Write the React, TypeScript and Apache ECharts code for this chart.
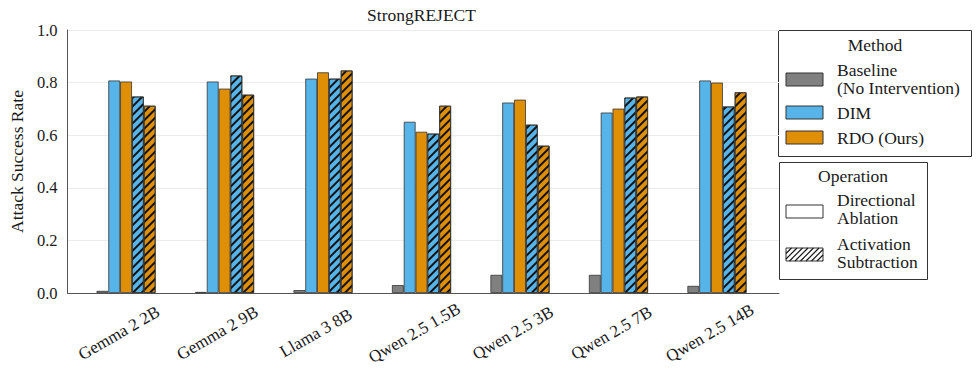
import React, { useEffect, useRef } from "react";
import * as echarts from "echarts";

const categories = ["Gemma 2 2B", "Gemma 2 9B", "Llama 3 8B", "Qwen 2.5 1.5B", "Qwen 2.5 3B", "Qwen 2.5 7B", "Qwen 2.5 14B"];
const baseline = [0.008, 0.004, 0.011, 0.03, 0.069, 0.069, 0.027];
const dimAblation = [0.808, 0.804, 0.815, 0.651, 0.724, 0.686, 0.808];
const rdoAblation = [0.804, 0.777, 0.839, 0.613, 0.735, 0.701, 0.8];
const dimSubtraction = [0.747, 0.827, 0.815, 0.606, 0.64, 0.743, 0.709];
const rdoSubtraction = [0.712, 0.754, 0.846, 0.712, 0.56, 0.747, 0.763];
const yTicks = [0, 0.2, 0.4, 0.6, 0.8, 1.0];

const FONT = "'Liberation Serif', 'DejaVu Serif', serif";
const GRAY = "#808080";
const BLUE = "#56B4E9";
const ORANGE = "#DE8F05";
const EDGE = "#333333";
const SPINE = "#555555";
const TXT = "#1a1a1a";

// plot geometry (pixels)
const PL = 64, PR = 779, PT = 30, PB = 293;
const W = 980, H = 381;
const unit = (PR - PL) / 7.26;
const BL = PL + 0.13 * unit;
const BR = PR - 0.13 * unit;
const barW = 0.12 * unit;

const hatchDecal = {
  symbol: "rect",
  symbolSize: 1,
  dashArrayX: [1, 0],
  dashArrayY: [1.1, 3.2],
  rotation: -Math.PI / 4,
  color: "#111111",
};

function hatchLines(x: number, y: number, w: number, h: number, step: number) {
  const out: any[] = [];
  for (let a = x - h; a < x + w; a += step) {
    let x1 = a, y1 = y + h, x2 = a + h, y2 = y;
    if (x1 < x) { y1 = y + h - (x - x1); x1 = x; }
    if (x2 > x + w) { y2 = y + (x2 - (x + w)); x2 = x + w; }
    if (x2 - x1 < 0.5) continue;
    out.push({
      type: "line",
      shape: { x1, y1, x2, y2 },
      style: { stroke: "#111", lineWidth: 1.1 },
      silent: true,
    });
  }
  return out;
}

function legendGraphics() {
  const t = (x: number, y: number, text: string, align = "left") => ({
    type: "text",
    x,
    y,
    style: {
      text,
      font: `17.5px ${FONT}`,
      lineHeight: 18.5,
      fill: TXT,
      textAlign: align,
      textVerticalAlign: "middle",
    },
  });
  const patch = (x: number, y: number, fill: string) => ({
    type: "rect",
    shape: { x, y, width: 37, height: 13 },
    style: { fill, stroke: EDGE, lineWidth: 1 },
  });
  const els: any[] = [
    { type: "rect", shape: { x: 778.5, y: 30.5, width: 193, height: 126 }, style: { fill: "#fff", stroke: "#333", lineWidth: 1 } },
    t(875, 45, "Method", "center"),
    patch(786, 73, GRAY),
    t(837, 79, "Baseline\n(No Intervention)"),
    patch(786, 106, BLUE),
    t(837, 113, "DIM"),
    patch(786, 131, ORANGE),
    t(837, 138, "RDO (Ours)"),
    { type: "rect", shape: { x: 779.5, y: 162.5, width: 148, height: 117 }, style: { fill: "#fff", stroke: "#333", lineWidth: 1 } },
    t(853, 176, "Operation", "center"),
    patch(786, 205, "#ffffff"),
    t(837, 209, "Directional\nAblation"),
    patch(786, 248, "#ffffff"),
    ...hatchLines(786, 248, 37, 13, 5.5),
    t(837, 253, "Activation\nSubtraction"),
  ];
  return els;
}

export default function App() {
  const ref = useRef<HTMLDivElement>(null);
  useEffect(() => {
    if (!ref.current) return;
    const chart = echarts.init(ref.current, undefined, { renderer: "svg" });
    const mkBar = (name: string, data: number[], color: string, hatched: boolean) => ({
      name,
      type: "bar",
      xAxisIndex: 1,
      yAxisIndex: 1,
      data,
      barWidth: barW,
      barGap: "0%",
      itemStyle: {
        color,
        borderColor: EDGE,
        borderWidth: 0.8,
        ...(hatched ? { decal: hatchDecal } : {}),
      },
    });
    chart.setOption({
      animation: false,
      backgroundColor: "#ffffff",
      textStyle: { fontFamily: FONT },
      grid: [
        { left: PL, right: W - PR, top: PT, bottom: H - PB, containLabel: false },
        { left: BL, right: W - BR, top: PT, bottom: H - PB, containLabel: false },
        { left: BL - 7, right: W - BR + 7, top: PT, bottom: H - PB, containLabel: false },
      ],
      xAxis: [
        {
          gridIndex: 0,
          type: "value",
          min: 0,
          max: 1,
          axisLine: { show: true, lineStyle: { color: SPINE, width: 1 } },
          axisTick: { show: false },
          axisLabel: { show: false },
          splitLine: { show: false },
        },
        {
          gridIndex: 1,
          type: "category",
          data: categories,
          axisLine: { show: false },
          axisTick: { show: false },
          axisLabel: { show: false },
          splitLine: { show: false },
        },
        {
          gridIndex: 2,
          type: "category",
          data: categories,
          axisLine: { show: false },
          axisTick: { show: false },
          axisLabel: {
            show: true,
            rotate: 30,
            align: "center",
            verticalAlign: "middle",
            margin: 40,
            fontSize: 17,
            color: TXT,
            fontFamily: FONT,
            interval: 0,
          },
          splitLine: { show: false },
        },
      ],
      yAxis: [
        {
          gridIndex: 0,
          type: "value",
          min: 0,
          max: 1,
          interval: 0.2,
          name: "Attack Success Rate",
          nameLocation: "middle",
          nameGap: 40,
          nameTextStyle: { fontSize: 17.5, color: TXT, fontFamily: FONT },
          axisLine: { show: true, lineStyle: { color: SPINE, width: 1 } },
          axisTick: { show: false },
          axisLabel: {
            fontSize: 16.5,
            color: TXT,
            fontFamily: FONT,
            margin: 10,
            formatter: (v: number) => (yTicks.some((t) => Math.abs(t - v) < 1e-9) ? v.toFixed(1) : ""),
          },
          splitLine: { show: true, lineStyle: { color: "#ebebeb", width: 1 } },
        },
        { gridIndex: 1, type: "value", min: 0, max: 1, show: false },
        { gridIndex: 2, type: "value", min: 0, max: 1, show: false },
      ],
      series: [
        mkBar("Baseline", baseline, GRAY, false),
        mkBar("DIM (Directional Ablation)", dimAblation, BLUE, false),
        mkBar("RDO (Directional Ablation)", rdoAblation, ORANGE, false),
        mkBar("DIM (Activation Subtraction)", dimSubtraction, BLUE, true),
        mkBar("RDO (Activation Subtraction)", rdoSubtraction, ORANGE, true),
      ],
      graphic: [
        {
          type: "text",
          x: (PL + PR) / 2,
          y: 15,
          style: { text: "StrongREJECT", font: `17.5px ${FONT}`, fill: TXT, textAlign: "center", textVerticalAlign: "middle" },
        },
        ...legendGraphics(),
      ],
    });
    return () => chart.dispose();
  }, []);
  return <div ref={ref} style={{ position: "fixed", left: 0, top: 0, width: W, height: H, background: "#fff" }} />;
}
